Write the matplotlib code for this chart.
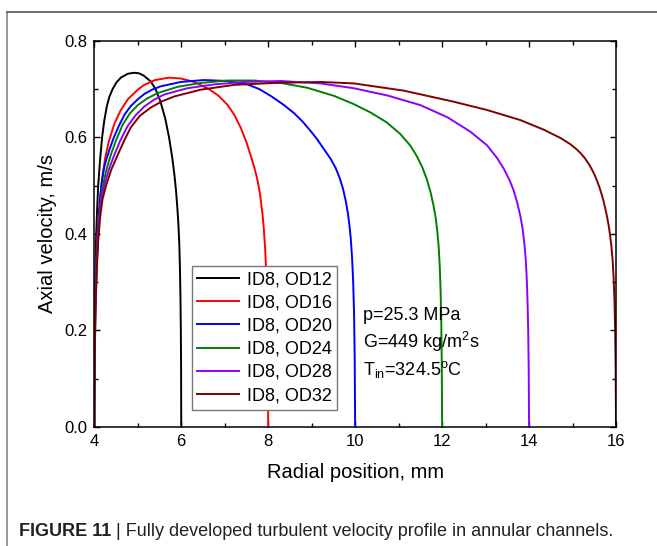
import matplotlib

matplotlib.use("Agg")
import matplotlib.pyplot as plt
from matplotlib.lines import Line2D
from matplotlib.ticker import MultipleLocator, FormatStrFormatter

plt.rcParams["font.family"] = ["Liberation Sans", "DejaVu Sans"]
plt.rcParams["mathtext.fontset"] = "custom"
plt.rcParams["mathtext.rm"] = "Liberation Sans"
plt.rcParams["mathtext.it"] = "Liberation Sans:italic"

# values: radial position [mm] / axial velocity [m/s]
od12_r = [4.0, 4.001, 4.005, 4.014, 4.027, 4.045, 4.065, 4.09, 4.13, 4.18, 4.23,
          4.29, 4.35, 4.42, 4.51, 4.61, 4.77, 4.91, 5.03, 5.14, 5.30, 5.41, 5.52,
          5.63, 5.72, 5.79, 5.84, 5.88, 5.91, 5.935, 5.955, 5.97, 5.982, 5.991,
          5.997, 6.0]
od12_u = [0.0, 0.05, 0.15, 0.25, 0.33, 0.4, 0.45, 0.5, 0.55, 0.6, 0.635,
          0.665, 0.685, 0.70, 0.714, 0.724, 0.732, 0.734, 0.733, 0.728, 0.716, 0.70,
          0.675, 0.64, 0.60, 0.56, 0.525, 0.49, 0.455, 0.42, 0.38, 0.33, 0.27, 0.20,
          0.12, 0.0]

od16_r = [4.0, 4.001, 4.007, 4.02, 4.04, 4.065, 4.1, 4.14, 4.19, 4.25, 4.33, 4.46,
          4.6, 4.77, 5.0, 5.15, 5.4, 5.72, 6.0, 6.3, 6.64, 6.85, 7.06, 7.22, 7.37,
          7.5, 7.6, 7.68, 7.74, 7.79, 7.83, 7.87, 7.9, 7.93, 7.95, 7.97, 7.985,
          7.995, 8.0]
od16_u = [0.0, 0.05, 0.15, 0.25, 0.33, 0.39, 0.44, 0.48, 0.52, 0.557, 0.59, 0.628,
          0.655, 0.679, 0.699, 0.709, 0.719, 0.724, 0.722, 0.715, 0.70, 0.687, 0.668,
          0.647, 0.62, 0.59, 0.562, 0.538, 0.517, 0.495, 0.47, 0.44, 0.41, 0.37,
          0.33, 0.27, 0.20, 0.11, 0.0]

od20_r = [4.0, 4.001, 4.008, 4.022, 4.045, 4.07, 4.1, 4.13, 4.17, 4.22, 4.27,
          4.35, 4.45, 4.56, 4.7, 4.84, 5.0, 5.15, 5.33, 5.53, 5.99, 6.52, 7.06, 7.52,
          7.8, 8.06, 8.35, 8.6, 8.8, 8.97, 9.12, 9.25, 9.35, 9.44, 9.55, 9.64, 9.72,
          9.78, 9.83, 9.87, 9.9, 9.93, 9.955, 9.975, 9.99, 10.0]
od20_u = [0.0, 0.05, 0.15, 0.25, 0.33, 0.38, 0.43, 0.47, 0.505, 0.535, 0.552,
          0.575, 0.6, 0.623, 0.648, 0.665, 0.679, 0.69, 0.699, 0.706, 0.715, 0.719,
          0.717, 0.71, 0.70, 0.686, 0.668, 0.65, 0.632, 0.614, 0.597, 0.58, 0.567,
          0.555, 0.537, 0.517, 0.494, 0.47, 0.445, 0.417, 0.39, 0.35, 0.30, 0.235,
          0.14, 0.0]

od24_r = [4.0, 4.001, 4.009, 4.025, 4.05, 4.08, 4.12, 4.16, 4.2, 4.27, 4.38, 4.5,
          4.65, 4.82, 5.0, 5.22, 5.46, 5.92, 6.45, 7.06, 7.67, 8.29, 8.9, 9.52, 9.97,
          10.35, 10.73, 11.04, 11.27, 11.42, 11.55, 11.65, 11.73, 11.8, 11.85,
          11.89, 11.92, 11.945, 11.965, 11.98, 11.992, 12.0]
od24_u = [0.0, 0.05, 0.15, 0.25, 0.33, 0.39, 0.44, 0.475, 0.5, 0.53, 0.564, 0.594,
          0.626, 0.65, 0.667, 0.681, 0.692, 0.705, 0.713, 0.718, 0.718, 0.713, 0.703,
          0.686, 0.669, 0.652, 0.631, 0.607, 0.583, 0.561, 0.537, 0.513, 0.488, 0.46,
          0.435, 0.405, 0.375, 0.335, 0.285, 0.225, 0.135, 0.0]

od28_r = [4.0, 4.001, 4.01, 4.028, 4.055, 4.085, 4.125, 4.175, 4.23, 4.33, 4.46,
          4.6, 4.77, 4.95, 5.15, 5.37, 5.61, 6.14, 6.76, 7.45, 8.29, 9.21, 9.97,
          10.74, 11.5, 12.12, 12.65, 13.03, 13.26, 13.42, 13.55, 13.65, 13.73, 13.8,
          13.85, 13.89, 13.92, 13.945, 13.965, 13.98, 13.992, 14.0]
od28_u = [0.0, 0.05, 0.15, 0.25, 0.33, 0.39, 0.44, 0.478, 0.5, 0.532, 0.564,
          0.594, 0.624, 0.646, 0.664, 0.678, 0.689, 0.702, 0.71, 0.715, 0.717, 0.712,
          0.702, 0.687, 0.667, 0.642, 0.612, 0.584, 0.558, 0.535, 0.512, 0.489,
          0.464, 0.437, 0.412, 0.382, 0.352, 0.312, 0.262, 0.202, 0.122, 0.0]

od32_r = [4.0, 4.001, 4.011, 4.03, 4.06, 4.09, 4.135, 4.19, 4.27, 4.39, 4.54,
          4.68, 4.84, 5.05, 5.3, 5.56, 5.84, 6.45, 7.22, 8.14, 9.21, 9.97, 11.12,
          12.27, 13.03, 13.8, 14.34, 14.72, 14.95, 15.1, 15.2, 15.3, 15.38, 15.45,
          15.51, 15.56, 15.61, 15.65, 15.69, 15.73, 15.77, 15.8, 15.83, 15.86, 15.89,
          15.92, 15.945, 15.965, 15.98, 15.992, 16.0]
od32_u = [0.0, 0.05, 0.15, 0.25, 0.33, 0.385, 0.435, 0.472, 0.5, 0.533, 0.564,
          0.592, 0.621, 0.645, 0.662, 0.675, 0.685, 0.699, 0.709, 0.713, 0.715, 0.712,
          0.697, 0.674, 0.657, 0.636, 0.616, 0.599, 0.586, 0.575, 0.566, 0.555,
          0.544, 0.533, 0.522, 0.511, 0.499, 0.488, 0.476, 0.462, 0.446, 0.433,
          0.418, 0.40, 0.378, 0.348, 0.31, 0.262, 0.20, 0.12, 0.0]

labels = ["ID8, OD12", "ID8, OD16", "ID8, OD20", "ID8, OD24", "ID8, OD28", "ID8, OD32"]
colors = ["#000000", "#ff0000", "#0000ff", "#008000", "#8b00ff", "#800000"]
series = [(od12_r, od12_u), (od16_r, od16_u), (od20_r, od20_u),
          (od24_r, od24_u), (od28_r, od28_u), (od32_r, od32_u)]

fig = plt.figure(figsize=(6.57, 5.46), dpi=100)
ax = fig.add_axes([0.1435, 0.218, 0.7941, 0.707])

for (r, u), c, lab in zip(series, colors, labels):
    ax.plot(r, u, color=c, linewidth=1.4, label=lab,
            solid_joinstyle="round", solid_capstyle="round")

ax.set_xlim(4, 16)
ax.set_ylim(0, 0.8)
ax.xaxis.set_major_locator(MultipleLocator(2))
ax.xaxis.set_minor_locator(MultipleLocator(1))
ax.yaxis.set_major_locator(MultipleLocator(0.2))
ax.yaxis.set_minor_locator(MultipleLocator(0.1))
ax.yaxis.set_major_formatter(FormatStrFormatter("%.1f"))
ax.tick_params(which="both", direction="in", top=True, right=True, labelsize=12, pad=5)
ax.tick_params(which="major", length=4.5, width=1.0)
ax.tick_params(which="minor", length=3.0, width=1.0)
for sp in ax.spines.values():
    sp.set_linewidth(1.1)

ax.set_xlabel("Radial position, mm", fontsize=14.5, labelpad=10)
ax.set_ylabel("Axial velocity, m/s", fontsize=14.5, labelpad=5)

handles = [Line2D([], [], color=c, linewidth=1.4) for c in colors]
leg = ax.legend(handles, labels, loc="upper left", bbox_to_anchor=(0.187, 0.417),
                borderaxespad=0, fontsize=13, fancybox=False, framealpha=1,
                edgecolor="#777777", handlelength=2.3, handletextpad=0.45,
                labelspacing=0.34, borderpad=0.3)
leg.get_frame().set_linewidth(1.0)

ax.text(10.18, 0.23, "p=25.3 MPa", fontsize=13, va="center")
ax.text(10.18, 0.176, "G=449 kg/m$^2$s", fontsize=13, va="center")
ax.text(10.18, 0.12, r"T$_{\mathrm{in}}$=324.5$^{\mathrm{o}}$C", fontsize=13, va="center")

# panel frame
fig.add_artist(Line2D([7 / 657, 7 / 657], [0, 1 - 12 / 546], transform=fig.transFigure,
                      color="#888888", linewidth=1.2))
fig.add_artist(Line2D([7 / 657, 1], [1 - 12 / 546, 1 - 12 / 546], transform=fig.transFigure,
                      color="#555555", linewidth=1.2))

# caption
cap_y = 1 - 532 / 546
t1 = fig.text(19 / 657, cap_y, "FIGURE 11", fontsize=13, fontweight="bold",
              va="center", color="#222222")
fig.canvas.draw()
bb = t1.get_window_extent()
fig.text(bb.x1 / fig.bbox.width, cap_y,
         " | Fully developed turbulent velocity profile in annular channels.",
         fontsize=13, va="center", color="#222222")

fig.savefig("out.png", dpi=100)
